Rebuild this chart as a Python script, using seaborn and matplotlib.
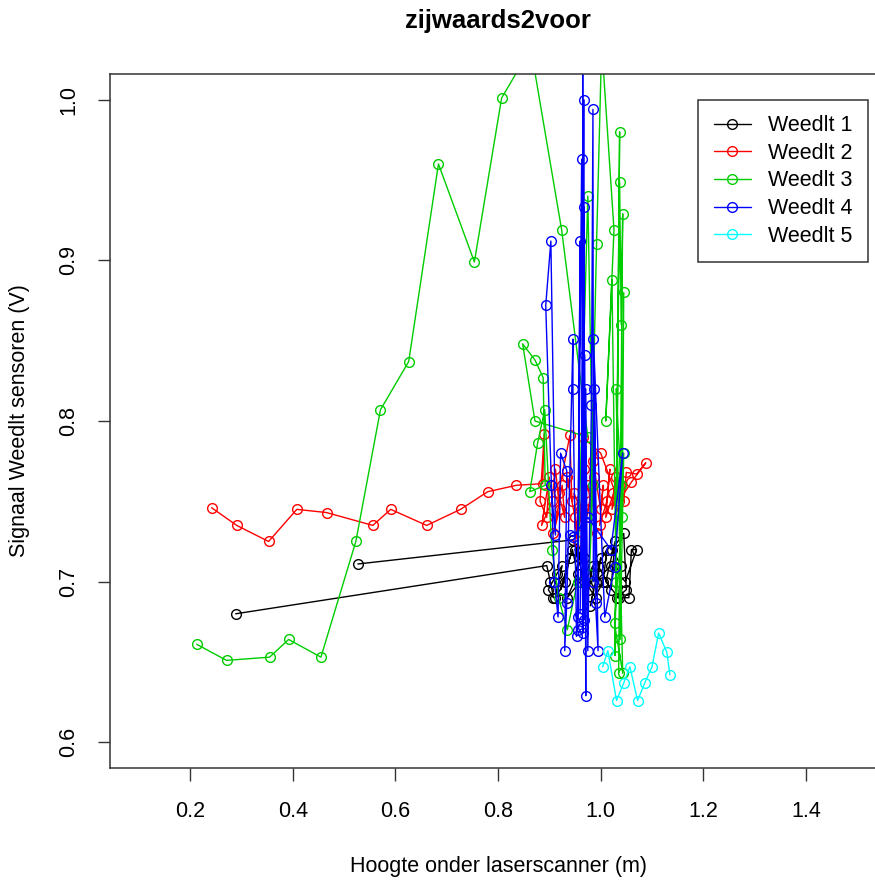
import pandas as pd
import matplotlib
matplotlib.use("Agg")
import matplotlib.pyplot as plt
import seaborn as sns

# Weedlt 1 .. 5 : hoogte (m) vs signaal (V), in meetvolgorde
w1_x = [0.289, 0.895, 0.902, 0.908, 0.898, 0.915, 0.925, 0.912, 0.930, 0.940, 0.922, 0.945, 0.955, 0.935, 0.960,
        0.968, 0.950, 0.975, 0.985, 0.970, 0.990, 1.000, 0.980, 1.005, 1.012, 0.995, 1.020, 1.028, 1.010, 1.035,
        1.040, 1.022, 1.045, 1.050, 1.032, 1.055, 1.060, 1.070, 1.048, 1.020, 0.990, 0.960, 0.946, 0.527]
w1_y = [0.680, 0.710, 0.700, 0.690, 0.695, 0.705, 0.710, 0.690, 0.700, 0.715, 0.695, 0.720, 0.705, 0.690, 0.700,
        0.715, 0.720, 0.695, 0.710, 0.700, 0.690, 0.715, 0.685, 0.700, 0.720, 0.710, 0.695, 0.725, 0.700, 0.690,
        0.710, 0.720, 0.730, 0.695, 0.690, 0.690, 0.720, 0.720, 0.700, 0.710, 0.700, 0.715, 0.726, 0.711]

w2_x = [0.242, 0.291, 0.353, 0.408, 0.466, 0.556, 0.591, 0.661, 0.727, 0.780, 0.836, 0.887, 0.890, 0.882, 0.895,
        0.900, 0.885, 0.905, 0.912, 0.920, 0.908, 0.925, 0.930, 0.918, 0.940, 0.944, 0.935, 0.950, 0.955, 0.948,
        0.962, 0.968, 0.958, 0.975, 0.980, 0.972, 0.988, 0.992, 0.985, 1.000, 1.005, 0.998, 1.012, 1.018, 1.010,
        1.025, 1.030, 1.022, 1.038, 1.045, 1.050, 1.070, 1.088, 1.060, 1.035, 1.000, 0.965]
w2_y = [0.746, 0.735, 0.725, 0.745, 0.743, 0.735, 0.745, 0.735, 0.745, 0.756, 0.760, 0.761, 0.792, 0.750, 0.740,
        0.765, 0.735, 0.750, 0.770, 0.745, 0.730, 0.760, 0.740, 0.755, 0.791, 0.750, 0.765, 0.740, 0.725, 0.755,
        0.745, 0.770, 0.735, 0.760, 0.750, 0.740, 0.765, 0.730, 0.775, 0.745, 0.760, 0.735, 0.750, 0.770, 0.740,
        0.755, 0.765, 0.745, 0.760, 0.750, 0.768, 0.767, 0.774, 0.762, 0.750, 0.780, 0.790]

w3_x = [0.213, 0.271, 0.355, 0.392, 0.455, 0.523, 0.571, 0.626, 0.684, 0.754, 0.807, 0.864, 0.924, 0.975, 0.872,
        0.848, 0.872, 0.888, 0.892, 0.862, 0.877, 0.891, 0.905, 0.918, 0.935, 0.955, 0.975, 0.985, 0.978, 0.992,
        1.002, 1.026, 1.010, 1.022, 1.030, 1.037, 1.028, 1.037, 1.040, 1.043, 1.035, 1.045, 1.042, 1.027, 1.043,
        1.030, 1.040, 1.045, 1.038]
w3_y = [0.661, 0.651, 0.653, 0.664, 0.653, 0.725, 0.807, 0.837, 0.960, 0.899, 1.001, 1.032, 0.919, 0.790, 0.800,
        0.848, 0.838, 0.827, 0.760, 0.756, 0.786, 0.807, 0.720, 0.690, 0.670, 0.700, 0.940, 0.760, 0.705, 0.910,
        1.035, 0.919, 0.800, 0.888, 0.700, 0.980, 0.654, 0.949, 0.860, 0.929, 0.643, 0.880, 0.740, 0.674, 0.643,
        0.820, 0.760, 0.780, 0.664]

w4_x = [0.903, 0.912, 0.903, 0.893, 0.910, 0.917, 0.922, 0.934, 0.930, 0.934, 0.946, 0.946, 0.953, 0.955, 0.960,
        0.955, 0.963, 0.965, 0.965, 0.966, 0.967, 0.967, 0.968, 0.960, 0.969, 0.971, 0.971, 0.975, 0.982, 0.985,
        0.986, 0.988, 0.990, 0.995, 0.986, 1.008, 1.027, 1.043, 1.020, 0.975, 0.946, 0.941]
w4_y = [0.760, 0.729, 0.912, 0.872, 0.700, 0.678, 0.780, 0.769, 0.657, 0.687, 0.851, 0.820, 0.666, 0.678, 0.912,
        0.670, 0.963, 0.672, 1.060, 0.668, 1.000, 0.676, 0.933, 0.680, 0.841, 0.629, 0.820, 0.657, 0.810, 0.994,
        0.700, 0.820, 0.687, 0.657, 0.851, 0.678, 0.709, 0.780, 0.720, 0.740, 0.728, 0.729]

w5_x = [1.004, 1.014, 1.031, 1.045, 1.057, 1.072, 1.086, 1.100, 1.113, 1.129, 1.135]
w5_y = [0.647, 0.657, 0.626, 0.637, 0.647, 0.626, 0.637, 0.647, 0.668, 0.656, 0.642]

labels = ["Weedlt 1", "Weedlt 2", "Weedlt 3", "Weedlt 4", "Weedlt 5"]
colors = ["black", "#FF0000", "#00CD00", "#0000FF", "#00FFFF"]
xs = [w1_x, w2_x, w3_x, w4_x, w5_x]
ys = [w1_y, w2_y, w3_y, w4_y, w5_y]

x_ticks = [0.2, 0.4, 0.6, 0.8, 1.0, 1.2, 1.4]
y_ticks = [0.6, 0.7, 0.8, 0.9, 1.0]

sns.set_style("white")
plt.rcParams["font.family"] = ["Liberation Sans", "DejaVu Sans"]
plt.rcParams["text.color"] = "black"
plt.rcParams["xtick.color"] = "black"
plt.rcParams["ytick.color"] = "black"

fig = plt.figure(figsize=(8.75, 8.8), dpi=100)
ax = fig.add_axes([110 / 875, 1 - 768 / 880, 776 / 875, 694 / 880])

for lab, col, x, y in zip(labels, colors, xs, ys):
    df = pd.DataFrame({"x": x, "y": y})
    sns.lineplot(data=df, x="x", y="y", sort=False, estimator=None, ax=ax,
                 color=col, label=lab, lw=1.0, marker="o", markersize=7,
                 markerfacecolor="none", markeredgecolor=col, markeredgewidth=1.0)

ax.set_xlim(0.044, 1.556)
ax.set_ylim(0.584, 1.016)
ax.set_xticks(x_ticks)
ax.set_xticklabels([f"{v:.1f}" for v in x_ticks])
ax.set_yticks(y_ticks)
ax.set_yticklabels([f"{v:.1f}" for v in y_ticks])
ax.tick_params(axis="both", direction="out", length=9, width=1, color="#333333",
               labelsize=15.5, labelcolor="black", pad=15, left=True, bottom=True)
ax.tick_params(axis="y", labelrotation=90, pad=13)
for lbl in ax.get_yticklabels():
    lbl.set_va("center")

for s in ax.spines.values():
    s.set_color("#333333")
    s.set_linewidth(1.1)

ax.set_xlabel("")
ax.set_ylabel("")
fig.text(498 / 875, 1 - 866 / 880, "Hoogte onder laserscanner (m)", ha="center", va="center",
         fontsize=15.5, color="black")
fig.text(20 / 875, 1 - 421 / 880, "Signaal Weedlt sensoren (V)", ha="center", va="center",
         rotation=90, fontsize=15.5, color="black")
fig.text(498 / 875, 1 - 21 / 880, "zijwaards2voor", ha="center", va="center", fontsize=18.5,
         fontweight="bold", color="black")

leg = ax.legend(loc="upper right", bbox_to_anchor=((868 - 110) / 776, 1 - 26 / 694), borderaxespad=0,
                fontsize=15.5, frameon=True, fancybox=False, framealpha=1, edgecolor="#333333",
                handlelength=1.75, handletextpad=0.8, labelspacing=0.31, borderpad=0.7)
leg.get_frame().set_linewidth(1.1)
for t in leg.get_texts():
    t.set_color("black")

fig.savefig("out.png", dpi=100)
